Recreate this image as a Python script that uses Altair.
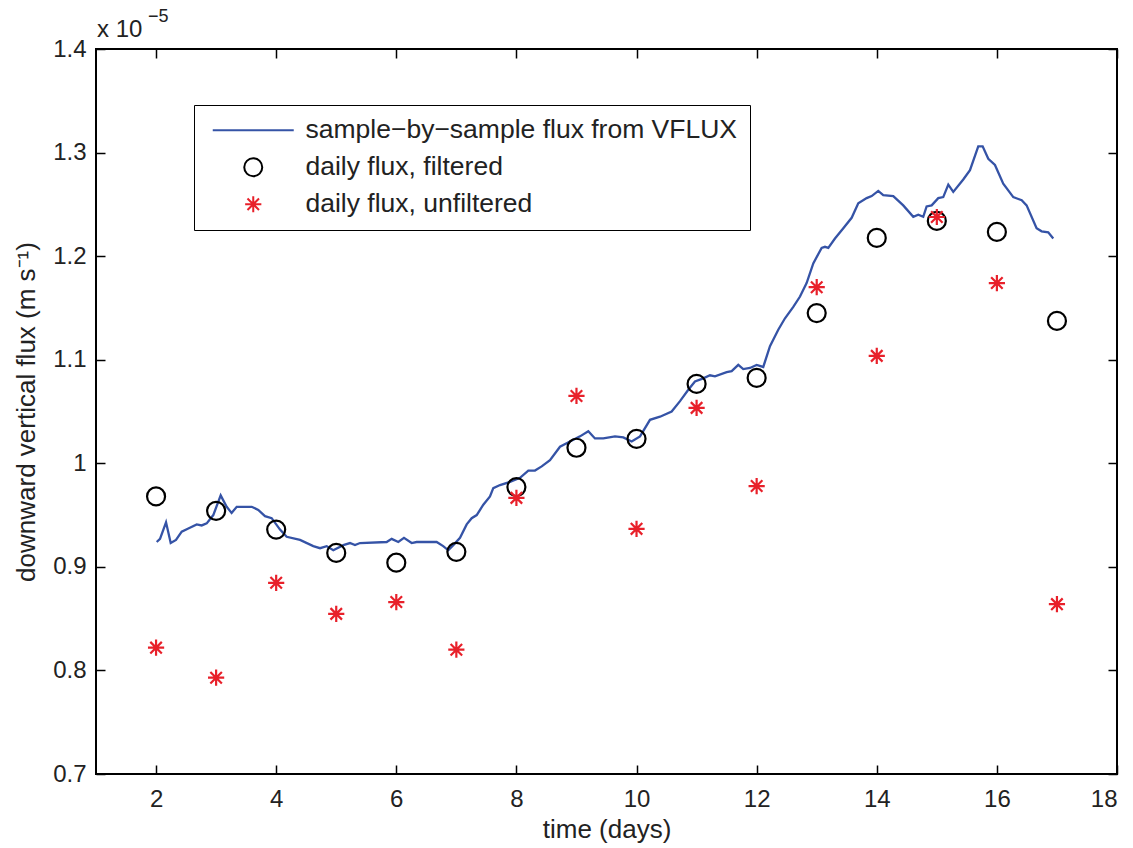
import altair as alt
import pandas as pd

# ---- data (flux in units of 1e-5 m s^-1) ----
sample_day = [
    2.011, 2.066, 2.166, 2.244, 2.332, 2.427, 2.537, 2.677, 2.760, 2.843,
    2.953, 3.076, 3.176, 3.258, 3.343, 3.593, 3.702, 3.814, 3.925, 4.064,
    4.175, 4.397, 4.618, 4.730, 4.841, 4.951, 5.118, 5.229, 5.312, 5.396,
    5.840, 5.923, 6.033, 6.128, 6.256, 6.338, 6.672, 6.781, 6.866, 6.949,
    7.061, 7.172, 7.255, 7.339, 7.449, 7.560, 7.615, 7.727, 7.893, 8.060,
    8.198, 8.309, 8.421, 8.559, 8.726, 8.892, 9.059, 9.197, 9.308, 9.447,
    9.642, 9.780, 9.919, 10.058, 10.224, 10.391, 10.585, 10.724, 10.862, 10.973,
    11.111, 11.223, 11.306, 11.501, 11.584, 11.694, 11.777, 11.889, 12.000, 12.110,
    12.222, 12.360, 12.472, 12.610, 12.722, 12.832, 12.943, 13.082, 13.138, 13.193,
    13.304, 13.443, 13.582, 13.692, 13.832, 13.915, 14.025, 14.108, 14.275, 14.441,
    14.608, 14.691, 14.774, 14.830, 14.914, 15.024, 15.107, 15.191, 15.274, 15.440,
    15.552, 15.690, 15.763, 15.857, 15.968, 16.106, 16.273, 16.413, 16.495, 16.661,
    16.745, 16.855, 16.939,
]
sample_flux = [
    0.924, 0.927, 0.943, 0.923, 0.926, 0.934, 0.937, 0.941, 0.940, 0.942,
    0.950, 0.969, 0.958, 0.952, 0.958, 0.958, 0.955, 0.949, 0.947, 0.936,
    0.929, 0.926, 0.920, 0.918, 0.920, 0.916, 0.921, 0.923, 0.921, 0.923,
    0.924, 0.927, 0.924, 0.928, 0.923, 0.924, 0.924, 0.920, 0.916, 0.921,
    0.928, 0.941, 0.947, 0.950, 0.960, 0.968, 0.976, 0.979, 0.982, 0.986,
    0.993, 0.993, 0.997, 1.003, 1.016, 1.021, 1.026, 1.031, 1.024, 1.024,
    1.026, 1.025, 1.021, 1.026, 1.042, 1.045, 1.050, 1.060, 1.071, 1.079,
    1.082, 1.085, 1.084, 1.088, 1.089, 1.095, 1.091, 1.092, 1.095, 1.093,
    1.113, 1.129, 1.140, 1.151, 1.161, 1.174, 1.193, 1.208, 1.209, 1.208,
    1.217, 1.227, 1.237, 1.251, 1.256, 1.258, 1.263, 1.259, 1.258, 1.249,
    1.238, 1.240, 1.238, 1.248, 1.249, 1.256, 1.257, 1.269, 1.262, 1.274,
    1.283, 1.306, 1.306, 1.294, 1.288, 1.270, 1.257, 1.254, 1.249, 1.227,
    1.224, 1.223, 1.217,
]

daily_day = [2, 3, 4, 5, 6, 7, 8, 9, 10, 11, 12, 13, 14, 15, 16, 17]
daily_filtered = [0.968, 0.954, 0.936, 0.9135, 0.904, 0.9145, 0.977, 1.015,
                  1.0236, 1.0766, 1.0824, 1.145, 1.2176, 1.234, 1.2234, 1.1375]
daily_unfiltered = [0.822, 0.793, 0.8846, 0.8546, 0.866, 0.820, 0.9666, 1.065,
                    0.9367, 1.0535, 0.978, 1.170, 1.1037, 1.2378, 1.174, 0.864]

series_names = ["sample\u2212by\u2212sample flux from VFLUX",
                "daily flux, filtered",
                "daily flux, unfiltered"]
series_colors = ["#3553a6", "#000000", "#e8202a"]

x_ticks = [2, 4, 6, 8, 10, 12, 14, 16, 18]
y_ticks = [0.7, 0.8, 0.9, 1.0, 1.1, 1.2, 1.3, 1.4]
exponent_base = ["x 10"]
exponent_power = ["\u22125"]

# ---- tables ----
line_df = pd.DataFrame({"day": sample_day, "flux": sample_flux,
                        "series": series_names[0]})
points_df = pd.concat([
    pd.DataFrame({"day": daily_day, "flux": daily_filtered, "series": series_names[1]}),
    pd.DataFrame({"day": daily_day, "flux": daily_unfiltered, "series": series_names[2]}),
], ignore_index=True)

FONT = "Liberation Sans"
LINE_SYMBOL = "M-4.5,0L4.5,0"
STAR_SYMBOL = ("M0,-0.9L0,0.9M-0.9,0L0.9,0"
               "M-0.64,-0.64L0.64,0.64M-0.64,0.64L0.64,-0.64")

x_scale = alt.Scale(domain=[1, 18], nice=False, zero=False)
y_scale = alt.Scale(domain=[0.7, 1.4], nice=False, zero=False)
color_scale = alt.Scale(domain=series_names, range=series_colors)
shape_scale = alt.Scale(domain=series_names, range=[LINE_SYMBOL, "circle", STAR_SYMBOL])

legend = alt.Legend(
    title=None, orient="none", legendX=98, legendY=56,
    padding=12, strokeColor="black", fillColor="white",
    labelFont=FONT, labelFontSize=26.5, labelColor="#222222", labelLimit=800,
    symbolSize=324, symbolStrokeWidth=2, symbolOffset=34, labelOffset=39,
    rowPadding=10, symbolFillColor="transparent",
)

tick_style = dict(domain=False, grid=False, tickSize=9, tickWidth=1.5,
                  tickColor="black", offset=-9)

x_bottom = alt.Axis(orient="bottom", values=x_ticks, title="time (days)",
                    labelFont=FONT, labelFontSize=24, labelColor="#222222",
                    labelPadding=13, titleFont=FONT, titleFontSize=26,
                    titleFontWeight="normal", titleColor="#222222",
                    titlePadding=5, **tick_style)
y_left = alt.Axis(orient="left", values=y_ticks,
                  labelExpr="datum.value == 1 ? '1' : format(datum.value, '.1f')",
                  title="downward vertical flux (m s\u207b\u00b9)",
                  labelFont=FONT, labelFontSize=24, labelColor="#222222",
                  labelPadding=10, titleFont=FONT, titleFontSize=26,
                  titleFontWeight="normal", titleColor="#222222",
                  titlePadding=13, **tick_style)
x_top = alt.Axis(orient="top", values=x_ticks, labels=False, title=None, **tick_style)
y_right = alt.Axis(orient="right", values=y_ticks, labels=False, title=None, **tick_style)

flux_line = alt.Chart(line_df).mark_line(strokeWidth=2.3).encode(
    x=alt.X("day:Q", scale=x_scale, axis=x_bottom),
    y=alt.Y("flux:Q", scale=y_scale, axis=y_left),
    color=alt.Color("series:N", scale=color_scale, legend=legend),
)

daily_points = alt.Chart(points_df).mark_point(filled=False, strokeWidth=2.2, size=324, opacity=1).encode(
    x=alt.X("day:Q", scale=x_scale, axis=x_top),
    y=alt.Y("flux:Q", scale=y_scale, axis=y_right),
    color=alt.Color("series:N", scale=color_scale, legend=legend),
    shape=alt.Shape("series:N", scale=shape_scale, legend=legend),
)

exp_base = alt.Chart(pd.DataFrame({"t": exponent_base})).mark_text(
    font=FONT, fontSize=24, align="left", baseline="alphabetic", color="#222222"
).encode(x=alt.value(1), y=alt.value(-12), text="t:N")

exp_power = alt.Chart(pd.DataFrame({"t": exponent_power})).mark_text(
    font=FONT, fontSize=18, align="left", baseline="alphabetic", color="#222222"
).encode(x=alt.value(52), y=alt.value(-27), text="t:N")

chart = alt.layer(flux_line, daily_points, exp_base, exp_power).resolve_axis(
    x="independent", y="independent"
).properties(
    width=1021, height=725,
    autosize=alt.AutoSizeParams(type="none"),
    padding={"left": 96, "top": 49, "right": 16, "bottom": 74},
    background="white",
).configure_view(stroke="black", strokeWidth=2)

chart.save("out.html", embed_options={"renderer": "svg", "actions": False})
